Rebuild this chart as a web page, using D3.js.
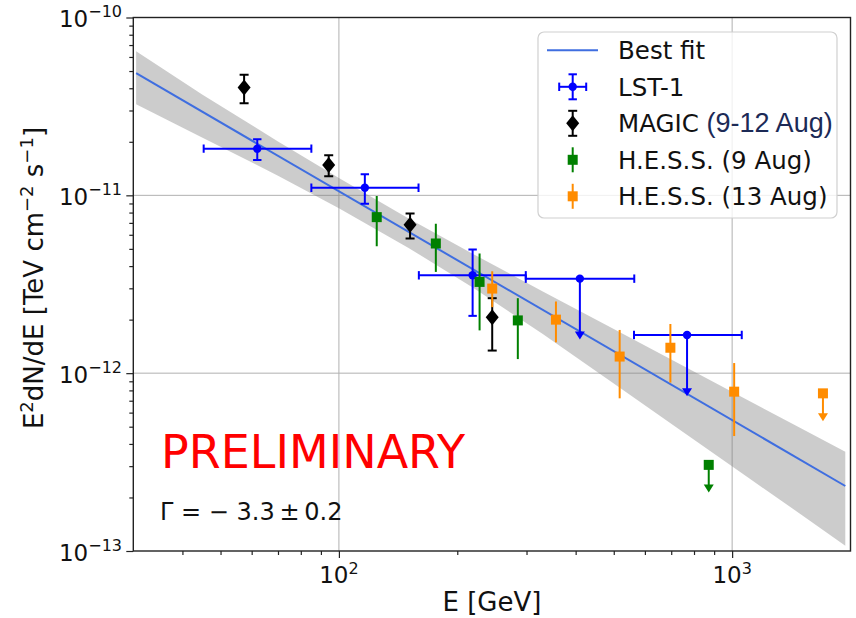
<!DOCTYPE html>
<html>
<head>
<meta charset="utf-8">
<script src="https://cdn.jsdelivr.net/npm/d3@7"></script>
<style>
  body { margin: 0; background: #fff; }
  svg { display: block; font-family: "DejaVu Sans", sans-serif; }
</style>
</head>
<body>
<svg width="856" height="618"></svg>
<script>
// values (E in GeV, E2dN/dE in TeV cm-2 s-1)
var fitE = [30.5, 1940];
var fitF = [4.86e-11, 2.32e-13];

var bandE  = [30.5, 45, 70, 100, 150, 220, 330, 500, 750, 1100, 1500, 1940];
var bandHi = [6.46e-11, 3.68e-11, 2.01e-11, 1.25e-11, 7.44e-12, 4.66e-12, 2.88e-12, 1.77e-12, 1.10e-12, 7.02e-13, 4.89e-13, 3.62e-13];
var bandLo = [3.25e-11, 2.11e-11, 1.29e-11, 8.46e-12, 5.08e-12, 3.01e-12, 1.66e-12, 8.75e-13, 4.67e-13, 2.58e-13, 1.60e-13, 1.07e-13];

var lstE   = [62.0, 116.4, 218.8, 410, 768];
var lstELo = [45.3, 85.1, 159.7, 298.7, 563];
var lstEHi = [85.1, 159.4, 298.7, 563.8, 1058];
var lstF   = [1.83e-11, 1.104e-11, 3.55e-12, 3.40e-12, 1.64e-12];
var lstFLo = [1.58e-11, 8.97e-12, 2.10e-12, 1.61e-12, 7.7e-13];
var lstFHi = [2.07e-11, 1.314e-11, 4.96e-12, null, null];

var magicE   = [57.4, 94.2, 151.7, 245.4];
var magicF   = [4.04e-11, 1.48e-11, 6.84e-12, 2.06e-12];
var magicFLo = [3.29e-11, 1.28e-11, 5.72e-12, 1.34e-12];
var magicFHi = [4.77e-11, 1.68e-11, 7.91e-12, 2.64e-12];

var hess9E   = [124.8, 176.4, 227.9, 285.1, 872];
var hess9F   = [7.54e-12, 5.36e-12, 3.26e-12, 1.98e-12, 3.05e-13];
var hess9FLo = [5.18e-12, 3.71e-12, 1.74e-12, 1.20e-12, 2.22e-13];
var hess9FHi = [9.91e-12, 6.92e-12, 4.71e-12, 2.64e-12, null];

var hess13E   = [245.4, 356.4, 517.6, 696.6, 1012, 1702];
var hess13F   = [2.99e-12, 2.00e-12, 1.24e-12, 1.39e-12, 7.87e-13, 7.70e-13];
var hess13FLo = [2.35e-12, 1.49e-12, 7.22e-13, 8.85e-13, 4.43e-13, 5.57e-13];
var hess13FHi = [3.74e-12, 2.53e-12, 1.75e-12, 1.89e-12, 1.14e-12, null];

var xMajor = [100, 1000];
var xMinor = [40, 50, 60, 70, 80, 90, 200, 300, 400, 500, 600, 700, 800, 900];
var xLabels = [["10", "2"], ["10", "3"]];
var yMajor = [1e-13, 1e-12, 1e-11, 1e-10];
var yLabels = [["10", "\u221213"], ["10", "\u221212"], ["10", "\u221211"], ["10", "\u221210"]];
var yMinor = [];
[1e-13, 1e-12, 1e-11].forEach(function(d){ [2,3,4,5,6,7,8,9].forEach(function(k){ yMinor.push(d*k); }); });

var legendNames = ["Best fit", "LST-1", "MAGIC ", "H.E.S.S. (9 Aug)", "H.E.S.S. (13 Aug)"];

var svg = d3.select("svg"),
    pl = 133.3, pr = 850.5, pt = 17.5, pb = 551;

var x = d3.scaleLog().domain([30, 2000]).range([pl, pr]);
var y = d3.scaleLog().domain([1e-13, 1e-10]).range([pb, pt]);

svg.append("defs").append("clipPath").attr("id", "clip")
  .append("rect").attr("x", pl).attr("y", pt).attr("width", pr - pl).attr("height", pb - pt);

// grid
var grid = svg.append("g").attr("stroke", "#b0b0b0").attr("stroke-width", 1);
grid.selectAll(".gx").data(xMajor).enter().append("line")
  .attr("x1", x).attr("x2", x).attr("y1", pt).attr("y2", pb);
grid.selectAll(".gy").data([1e-12, 1e-11]).enter().append("line")
  .attr("y1", y).attr("y2", y).attr("x1", pl).attr("x2", pr);

var plot = svg.append("g").attr("clip-path", "url(#clip)");

// fit band + line
var band = bandE.map(function(e, i){ return {e: e, hi: bandHi[i], lo: bandLo[i]}; });
plot.append("path").datum(band)
  .attr("fill", "#808080").attr("fill-opacity", 0.4)
  .attr("d", d3.area().x(function(d){ return x(d.e); }).y0(function(d){ return y(d.lo); }).y1(function(d){ return y(d.hi); }));
plot.append("path").datum(fitE.map(function(e, i){ return [e, fitF[i]]; }))
  .attr("fill", "none").attr("stroke", "#3f6ee0").attr("stroke-width", 2)
  .attr("d", d3.line().x(function(d){ return x(d[0]); }).y(function(d){ return y(d[1]); }));

function rows(E, F, FLo, FHi, ELo, EHi) {
  return E.map(function(e, i){
    return {e: e, f: F[i], fLo: FLo[i], fHi: FHi[i],
            eLo: ELo ? ELo[i] : null, eHi: EHi ? EHi[i] : null, ul: FHi[i] == null};
  });
}

function marker(g, type, color) {
  if (type == "circle") g.append("circle").attr("r", 4.2).attr("fill", color);
  if (type == "diamond") g.append("path").attr("d", "M0,-8L6.5,0L0,8L-6.5,0Z").attr("fill", color);
  if (type == "square") g.append("rect").attr("x", -5).attr("y", -5).attr("width", 10).attr("height", 10).attr("fill", color);
}

function drawSeries(data, color, type, cap) {
  var g = plot.append("g").attr("stroke", color).attr("stroke-width", 2);
  data.forEach(function(d){
    var px = x(d.e), py = y(d.f);
    if (d.eLo != null) {
      g.append("line").attr("x1", x(d.eLo)).attr("x2", x(d.eHi)).attr("y1", py).attr("y2", py);
      if (cap) [d.eLo, d.eHi].forEach(function(v){
        g.append("line").attr("x1", x(v)).attr("x2", x(v)).attr("y1", py - cap).attr("y2", py + cap);
      });
    }
    var yTop = d.ul ? py : y(d.fHi), yBot = y(d.fLo);
    g.append("line").attr("x1", px).attr("x2", px).attr("y1", yTop).attr("y2", yBot);
    if (cap && !d.ul) [yTop, yBot].forEach(function(v){
      g.append("line").attr("x1", px - cap).attr("x2", px + cap).attr("y1", v).attr("y2", v);
    });
    if (d.ul) g.append("path").attr("stroke", "none").attr("fill", color)
      .attr("d", "M" + (px - 5) + "," + (yBot - 5) + "L" + (px + 5) + "," + (yBot - 5) + "L" + px + "," + (yBot + 3) + "Z");
    var m = plot.append("g").attr("transform", "translate(" + px + "," + py + ")");
    marker(m, type, color);
  });
}

drawSeries(rows(lstE, lstF, lstFLo, lstFHi, lstELo, lstEHi), "#0000ff", "circle", 4.2);
drawSeries(rows(magicE, magicF, magicFLo, magicFHi), "#000000", "diamond", 4.5);
drawSeries(rows(hess9E, hess9F, hess9FLo, hess9FHi), "#008000", "square", 0);
drawSeries(rows(hess13E, hess13F, hess13FLo, hess13FHi), "#ff8c00", "square", 0);

// axes
var ax = svg.append("g").attr("transform", "translate(0," + pb + ")");
ax.call(d3.axisBottom(x).tickValues(xMajor).tickSize(7).tickFormat(""));
ax.append("g").call(d3.axisBottom(x).tickValues(xMinor).tickSize(4).tickFormat(""));
var ay = svg.append("g").attr("transform", "translate(" + pl + ",0)");
ay.call(d3.axisLeft(y).tickValues(yMajor).tickSize(7).tickFormat(""));
ay.append("g").call(d3.axisLeft(y).tickValues(yMinor).tickSize(4).tickFormat(""));
svg.selectAll(".domain").remove();
svg.selectAll(".tick line").attr("stroke", "#222").attr("stroke-width", 1.2);

svg.append("rect").attr("x", pl).attr("y", pt).attr("width", pr - pl).attr("height", pb - pt)
  .attr("fill", "none").attr("stroke", "#222").attr("stroke-width", 1.4);

xMajor.forEach(function(v, i){
  var t = svg.append("text").attr("x", x(v)).attr("y", 582.7).attr("text-anchor", "middle")
    .attr("font-size", 23).attr("fill", "#111");
  t.append("tspan").text(xLabels[i][0]);
  t.append("tspan").attr("dy", -9).attr("font-size", 16).text(xLabels[i][1]);
});
yMajor.forEach(function(v, i){
  var t = svg.append("text").attr("x", 122).attr("y", y(v) + 9.8).attr("text-anchor", "end")
    .attr("font-size", 23).attr("fill", "#111");
  t.append("tspan").text(yLabels[i][0]);
  t.append("tspan").attr("dy", -10).attr("font-size", 16).text(yLabels[i][1]);
});

svg.append("text").attr("x", (pl + pr) / 2).attr("y", 611).attr("text-anchor", "middle")
  .attr("font-size", 26).attr("fill", "#111").text("E [GeV]");

var yl = svg.append("text").attr("transform", "translate(43,278) rotate(-90)")
  .attr("text-anchor", "middle").attr("font-size", 26).attr("fill", "#111");
yl.append("tspan").text("E");
yl.append("tspan").attr("dy", -10).attr("font-size", 18).text("2");
yl.append("tspan").attr("dy", 10).text("dN/dE [TeV cm");
yl.append("tspan").attr("dy", -10).attr("font-size", 18).text("\u22122");
yl.append("tspan").attr("dy", 10).text(" s");
yl.append("tspan").attr("dy", -10).attr("font-size", 18).text("\u22121");
yl.append("tspan").attr("dy", 10).text("]");

svg.append("text").attr("x", 161).attr("y", 467.5).attr("font-size", 46).attr("fill", "#ff0000").text("PRELIMINARY");
svg.append("text").attr("x", 160).attr("y", 520).attr("font-size", 24).attr("fill", "#111")
  .text("\u0393 = \u2212 3.3\u2009\u00b1\u20090.2");

// legend
var lg = svg.append("g");
lg.append("rect").attr("x", 538).attr("y", 32).attr("width", 299).attr("height", 186).attr("rx", 6)
  .attr("fill", "#fff").attr("fill-opacity", 0.8).attr("stroke", "#d0d0d0").attr("stroke-width", 1.2);
var rowY = [50.3, 86.8, 123.3, 159.8, 196.3], hx = 572.7;
lg.append("line").attr("x1", 547).attr("x2", 598).attr("y1", rowY[0]).attr("y2", rowY[0])
  .attr("stroke", "#3f6ee0").attr("stroke-width", 2);
var hs = [["#0000ff", "circle", 4.2], ["#000000", "diamond", 4.5], ["#008000", "square", 0], ["#ff8c00", "square", 0]];
hs.forEach(function(h, i){
  var cy = rowY[i + 1];
  var g = lg.append("g").attr("stroke", h[0]).attr("stroke-width", 2);
  g.append("line").attr("x1", hx).attr("x2", hx).attr("y1", cy - 12.5).attr("y2", cy + 12.5);
  if (i == 0) {
    g.append("line").attr("x1", hx - 13.5).attr("x2", hx + 13.5).attr("y1", cy).attr("y2", cy);
    [hx - 13.5, hx + 13.5].forEach(function(v){
      g.append("line").attr("x1", v).attr("x2", v).attr("y1", cy - h[2]).attr("y2", cy + h[2]);
    });
  }
  if (h[2]) [cy - 12.5, cy + 12.5].forEach(function(v){
    g.append("line").attr("x1", hx - h[2]).attr("x2", hx + h[2]).attr("y1", v).attr("y2", v);
  });
  marker(lg.append("g").attr("transform", "translate(" + hx + "," + cy + ")"), h[1], h[0]);
});
legendNames.forEach(function(n, i){
  var t = lg.append("text").attr("x", 618).attr("y", rowY[i] + 8.7).attr("font-size", 24.5).attr("fill", "#111").text(n);
  if (i == 2) t.append("tspan").attr("fill", "#1c2a56").attr("font-family", "Liberation Sans, Arial, sans-serif")
    .attr("font-size", 27).text("(9-12 Aug)");
});
</script>
</body>
</html>
